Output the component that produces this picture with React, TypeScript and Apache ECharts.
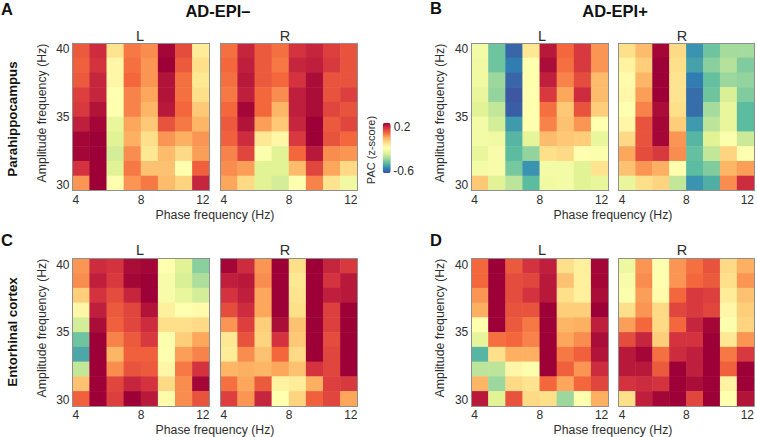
import React, { useEffect, useRef } from "react";
import * as echarts from "echarts";

const phaseBins = ["4", "5", "6", "7", "8", "9", "10", "11"];
const ampBinsTopDown = ["39", "38", "37", "36", "35", "34", "33", "32", "31", "30"];

const panelAL = [
  [.06,.13,-.13,.02,0,.19,.08,-.15],
  [.05,.12,-.18,.03,-.01,.2,.06,-.12],
  [.06,.14,-.18,.04,-.01,.17,.03,-.14],
  [.1,.14,-.2,.01,-.03,.17,.03,-.12],
  [.11,.17,-.2,.01,-.05,.16,.04,-.08],
  [.15,.19,-.26,-.03,-.08,.07,.02,-.05],
  [.19,.2,-.28,-.04,-.12,-.01,-.04,-.01],
  [.19,.2,-.3,0,-.14,-.06,-.11,-.02],
  [.12,.2,-.28,.02,-.07,-.07,-.2,.05],
  [-.01,.2,-.2,-.01,.02,-.06,-.1,.14],
];
const panelAR = [
  [.03,.14,.06,.03,.12,.14,.1,.07],
  [.04,.15,.06,.02,.14,.15,.11,.07],
  [.03,.16,.06,.04,.12,.18,.07,.07],
  [.02,.15,.04,0,.15,.18,.07,.1],
  [.04,.19,.04,-.05,.15,.18,.09,.07],
  [.06,.17,-.02,-.08,.14,.2,.06,.09],
  [.05,.13,-.14,-.18,.11,.2,.07,.04],
  [.01,.09,-.21,-.28,.04,.16,0,-.01],
  [0,-.02,-.28,-.28,-.06,.09,-.03,-.11],
  [-.03,-.11,-.28,-.3,-.2,.01,-.13,-.24],
];
const panelBL = [
  [-.23,-.42,-.56,-.14,.16,.04,.11,-.01],
  [-.24,-.42,-.53,-.2,.18,.03,.11,-.01],
  [-.24,-.37,-.56,-.2,.15,.01,.08,-.06],
  [-.26,-.38,-.58,-.2,.11,-.03,.13,-.06],
  [-.28,-.32,-.57,-.2,.03,-.08,.07,-.09],
  [-.23,-.3,-.49,-.2,.01,-.07,-.01,-.2],
  [-.23,-.24,-.45,-.27,-.06,-.08,-.09,-.26],
  [-.26,-.22,-.44,-.38,-.12,-.11,-.2,-.21],
  [-.23,-.22,-.41,-.5,-.23,-.23,-.28,-.13],
  [-.08,-.28,-.33,-.44,-.24,-.23,-.28,-.26],
];
const panelBR = [
  [-.12,-.06,.19,-.11,-.5,-.42,-.36,-.36],
  [-.17,-.09,.2,-.12,-.48,-.39,-.34,-.4],
  [-.19,-.05,.2,-.13,-.53,-.43,-.37,-.38],
  [-.18,-.02,.2,-.13,-.55,-.42,-.29,-.4],
  [-.2,.01,.18,-.12,-.55,-.36,-.26,-.44],
  [-.18,.07,.19,-.09,-.49,-.33,-.26,-.44],
  [-.11,.07,.19,-.01,-.45,-.28,-.21,-.31],
  [-.03,.08,.11,0,-.43,-.32,-.1,-.2],
  [-.07,-.01,-.04,-.2,-.44,-.4,-.05,-.02],
  [-.26,-.12,-.1,-.32,-.5,-.46,0,.13],
];
const panelCL = [
  [-.01,.13,.12,.18,.19,-.2,-.28,-.39],
  [0,.15,.11,.19,.2,-.22,-.29,-.35],
  [-.09,.12,.08,.14,.2,-.22,-.26,-.3],
  [-.18,.15,.06,.09,.17,-.16,-.2,-.19],
  [-.3,.18,.05,.09,.13,-.12,-.12,-.11],
  [-.42,.2,.01,.06,.11,-.21,-.09,-.03],
  [-.47,.2,-.05,.05,.05,-.2,-.02,.01],
  [-.32,.2,0,.07,.06,-.18,.02,.12],
  [-.07,.2,.09,.14,.12,-.11,0,.19],
  [.05,.2,.1,.2,.16,-.19,0,.07],
];
const panelCR = [
  [.19,.13,-.01,.2,-.12,.2,.14,.11],
  [.15,.16,0,.2,-.14,.2,.12,.16],
  [.12,.15,-.03,.2,-.13,.2,.15,.16],
  [.08,.13,-.03,.2,-.12,.2,.1,.2],
  [-.01,.1,-.09,.18,-.07,.2,.1,.2],
  [-.14,.07,-.1,.12,-.08,.2,.08,.2],
  [-.15,0,-.07,.04,-.11,.2,.09,.2],
  [-.05,-.04,-.05,-.03,-.07,.12,.09,.2],
  [.03,-.03,.06,-.17,-.15,-.04,.1,.11],
  [.1,-.01,.14,-.2,-.1,.05,.09,-.03],
];
const panelDL = [
  [.04,.2,.06,.12,.15,-.12,-.16,.19],
  [.04,.2,.08,.09,.16,-.07,-.16,.19],
  [-.01,.2,.08,.12,.16,-.12,-.16,.18],
  [-.04,.2,.07,.07,.2,-.09,-.09,.2],
  [-.2,.2,.06,.02,.2,-.05,-.04,.15],
  [-.27,.03,.04,.01,.2,-.03,0,.18],
  [-.45,-.12,-.04,-.04,.2,.02,.05,.17],
  [-.33,-.33,-.18,-.21,.2,.05,-.01,.13],
  [-.05,-.37,-.11,-.13,.04,-.03,.04,.09],
  [.16,-.28,.07,-.11,-.12,-.37,-.2,-.04],
];
const panelDR = [
  [-.25,-.01,-.2,-.01,.03,.07,-.11,-.04],
  [-.22,0,-.2,-.01,.04,.06,-.12,-.01],
  [-.21,-.02,-.19,.04,.11,.1,-.15,-.07],
  [-.12,-.01,-.11,.09,.11,.09,-.18,-.09],
  [-.02,.04,-.11,.04,.14,.19,-.21,-.1],
  [.08,.14,-.09,.12,.12,.2,-.14,-.01],
  [.16,.19,.03,.13,.15,.2,.02,.11],
  [.16,.16,.06,.2,.15,.2,.05,.2],
  [.12,.13,.12,.2,.18,.2,-.17,.2],
  [-.12,.15,.19,.2,.09,.2,-.2,.17],
];

const spectral = ["#41479b","#2f85b5","#5cbca0","#a5db9c","#e2f396","#ffffb0","#fee08b","#fdb061","#f4673c","#d4323f","#9c0036"];

const FONT = "'Liberation Sans', Arial, sans-serif";
const TXT = "#2e2e2e";
const BORDER = "#8f8f8f";
const GW = 137;
const GH = 147.5;

const panels = [
  { data: panelAL, x: 72.5, y: 43.2, left: true },
  { data: panelAR, x: 220.5, y: 43.2, left: false },
  { data: panelBL, x: 471.3, y: 43.2, left: true },
  { data: panelBR, x: 618.7, y: 43.2, left: false },
  { data: panelCL, x: 72.5, y: 258.6, left: true },
  { data: panelCR, x: 220.5, y: 258.6, left: false },
  { data: panelDL, x: 471.3, y: 258.6, left: true },
  { data: panelDR, x: 618.7, y: 258.6, left: false },
];

const label = (text: string, x: number, y: number, size: number, bold = false, rotate = 0) => ({
  type: "text",
  x,
  y,
  rotation: rotate,
  style: {
    text,
    fontSize: size,
    fontWeight: bold ? "bold" : "normal",
    fontFamily: FONT,
    fill: bold ? "#111" : TXT,
    align: "center",
    verticalAlign: "middle",
  },
});

function buildOption() {
  const grid: any[] = [];
  const xAxis: any[] = [];
  const yAxis: any[] = [];
  const series: any[] = [];
  const axisLine = { show: true, onZero: false, lineStyle: { color: BORDER, width: 1 } };
  panels.forEach((p, i) => {
    grid.push({ left: p.x, top: p.y, width: GW, height: GH, containLabel: false });
    xAxis.push({
      type: "category", gridIndex: i, data: phaseBins, position: "top", z: 5,
      axisLine, axisTick: { show: false }, axisLabel: { show: false }, splitLine: { show: false },
    });
    xAxis.push({
      type: "value", gridIndex: i, min: 4, max: 12, interval: 4, position: "bottom", z: 5,
      axisLine, axisTick: { show: false }, splitLine: { show: false },
      axisLabel: {
        color: TXT, fontSize: 12, fontFamily: FONT, margin: 3,
        alignMinLabel: "left", alignMaxLabel: "right",
      },
    });
    yAxis.push({
      type: "category", gridIndex: i, data: ampBinsTopDown.slice().reverse(), position: "right", z: 5,
      axisLine, axisTick: { show: false }, axisLabel: { show: false }, splitLine: { show: false },
    });
    yAxis.push({
      type: "value", gridIndex: i, min: 30, max: 40, interval: 5, position: "left", z: 5,
      axisLine, axisTick: { show: false }, splitLine: { show: false },
      axisLabel: {
        show: p.left, color: TXT, fontSize: 12, fontFamily: FONT, margin: 3,
        verticalAlignMinLabel: "bottom", verticalAlignMaxLabel: "top",
      },
    });
    const cells: number[][] = [];
    p.data.forEach((row, r) => row.forEach((v, c) => cells.push([c, ampBinsTopDown.length - 1 - r, v])));
    series.push({
      type: "heatmap", xAxisIndex: i * 2, yAxisIndex: i * 2, data: cells,
      progressive: 0, emphasis: { disabled: true },
    });
  });

  const graphic: any[] = [
    label("A", 7, 9, 16.5, true),
    label("B", 436, 8, 16.5, true),
    label("C", 7, 240, 16.5, true),
    label("D", 436, 240, 16.5, true),
    label("AD-EPI\u2013", 218, 11, 16.5, true),
    label("AD-EPI+", 615, 11, 16.5, true),
    label("Parahippocampus", 12, 119, 13.3, true, Math.PI / 2),
    label("Entorhinal cortex", 12, 332, 13.3, true, Math.PI / 2),
    label("PAC (z-score)", 371, 150, 11, false, Math.PI / 2),
    label("0.2", 402, 127, 12),
    label("-0.6", 403.5, 171, 12),
  ];
  [[140, 36], [285, 36], [542, 36], [682, 36], [140, 250], [285, 250], [542, 250], [682, 250]].forEach(([x, y], i) =>
    graphic.push(label(i % 2 === 0 ? "L" : "R", x, y, 14.5)),
  );
  [[215, 215], [613, 215], [215, 429.5], [613, 429.5]].forEach(([x, y]) =>
    graphic.push(label("Phase frequency (Hz)", x, y, 12.3)),
  );
  [[42, 113], [440, 113], [42, 328], [440, 328]].forEach(([x, y]) =>
    graphic.push(label("Amplitude frequency (Hz)", x, y, 12.3, false, Math.PI / 2)),
  );

  return {
    animation: false,
    backgroundColor: "#ffffff",
    grid,
    xAxis,
    yAxis,
    series,
    graphic,
    visualMap: {
      type: "continuous",
      min: -0.6,
      max: 0.2,
      seriesIndex: panels.map((_, i) => i),
      dimension: 2,
      calculable: false,
      realtime: false,
      left: 382.7,
      top: 122.7,
      padding: 0,
      itemWidth: 8,
      itemHeight: 50.6,
      text: ["", ""],
      textGap: 0,
      showLabel: false,
      inRange: { color: spectral },
    },
  };
}

export default function App() {
  const ref = useRef<HTMLDivElement>(null);
  useEffect(() => {
    const chart = echarts.init(ref.current!, undefined, { renderer: "svg" });
    chart.setOption(buildOption() as any);
    return () => chart.dispose();
  }, []);
  return <div ref={ref} style={{ position: "fixed", left: 0, top: 0, width: 757, height: 437 }} />;
}
